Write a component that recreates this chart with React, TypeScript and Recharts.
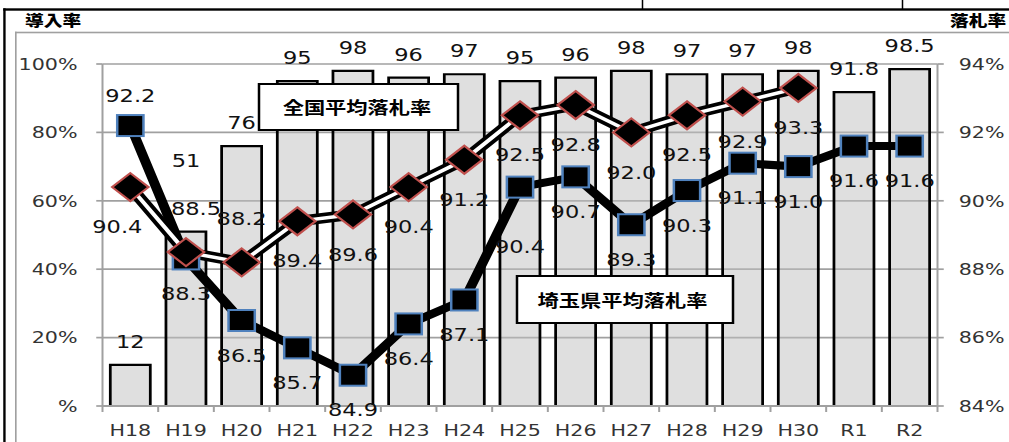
import React from 'react';
import { ComposedChart, Bar, Line, XAxis, YAxis, CartesianGrid, LabelList } from 'recharts';

const categories = ['H18', 'H19', 'H20', 'H21', 'H22', 'H23', 'H24', 'H25', 'H26', 'H27', 'H28', 'H29', 'H30', 'R1', 'R2'];
const adoptionRate = [12, 51, 76, 95, 98, 96, 97, 95, 96, 98, 97, 97, 98, 91.8, 98.5];
const nationalAvgRate: (number | null)[] = [90.4, 88.5, 88.2, 89.4, 89.6, 90.4, 91.2, 92.5, 92.8, 92.0, 92.5, 92.9, 93.3, null, null];
const saitamaAvgRate = [92.2, 88.3, 86.5, 85.7, 84.9, 86.4, 87.1, 90.4, 90.7, 89.3, 90.3, 91.1, 91.0, 91.6, 91.6];
const leftTicks = [0, 20, 40, 60, 80, 100];
const rightTicks = [84, 86, 88, 90, 92, 94];

const data = categories.map((cat, i) => ({
  cat,
  adoption: adoptionRate[i],
  national: nationalAvgRate[i],
  saitama: saitamaAvgRate[i],
}));

const SX = 1.25;
const W = 808;
const H = 442;
const PLOT_L = 82;
const PLOT_R = 750;
const PLOT_T = 64;
const PLOT_B = 406;
const BAND = (PLOT_R - PLOT_L) / categories.length;
const NUM_FONT = '"DejaVu Sans", Verdana, sans-serif';
const JP_FONT = '"Noto Sans CJK JP", "Noto Sans CJK SC", sans-serif';
const GRID = '#a0a0a0';
const X_TICK_SIZE = 6;
const X_TICK_MARGIN = 6;

const getXY = (p: any) => {
  const vb = p.viewBox || {};
  const x = typeof p.x === 'number' ? p.x : vb.x;
  const y = typeof p.y === 'number' ? p.y : vb.y;
  const w = typeof p.width === 'number' ? p.width : vb.width || 0;
  return { x, y, w };
};

const renderBarLabel = (p: any) => {
  const { x, y, w } = getXY(p);
  if (p.value == null || x == null || y == null) return null;
  const lift = p.index === 1 ? 71 : 23;
  return (
    <text key={`bl-${p.index}`} x={x + w / 2} y={y - lift} textAnchor="middle" dominantBaseline="central"
      fontFamily={NUM_FONT} fontSize={18} fill="#111">
      {String(p.value)}
    </text>
  );
};

const saitamaShift = (i: number) => (i === 0 ? [0, -30] : i === 7 ? [0, 60] : [0, 35]);
const nationalShift = (i: number) =>
  i === 0 ? [-10.4, 40] : i === 1 ? [8, -43] : i === 2 ? [0, -44] : [0, 40];

const makeLineLabel = (shift: (i: number) => number[]) => (p: any) => {
  const { x, y } = getXY(p);
  if (p.value == null || x == null || y == null || isNaN(y)) return null;
  const [dx, dy] = shift(p.index);
  return (
    <text key={`ll-${p.index}`} x={x + dx} y={y + dy} textAnchor="middle" dominantBaseline="central"
      fontFamily={NUM_FONT} fontSize={18} fill="#111">
      {Number(p.value).toFixed(1)}
    </text>
  );
};

const renderSquare = (p: any) => {
  const { cx, cy, index } = p;
  if (cx == null || cy == null || isNaN(cy)) return <g key={`sq-${index}`} />;
  return (
    <rect key={`sq-${index}`} x={cx - 10.5} y={cy - 10.5} width={21} height={21}
      fill="#000" stroke="#4f81bd" strokeWidth={2} />
  );
};

const renderDiamond = (p: any) => {
  const { cx, cy, index } = p;
  if (cx == null || cy == null || isNaN(cy)) return <g key={`dm-${index}`} />;
  const hw = 14.5;
  const hh = 14;
  return (
    <polygon key={`dm-${index}`}
      points={`${cx},${cy - hh} ${cx + hw},${cy} ${cx},${cy + hh} ${cx - hw},${cy}`}
      fill="#000" stroke="#c0504d" strokeWidth={2} />
  );
};

const XTick = (p: any) => {
  const { x, y, payload, index } = p;
  const axisY = y - X_TICK_SIZE - X_TICK_MARGIN;
  const left = x - BAND / 2;
  return (
    <g>
      <line x1={left} x2={left} y1={axisY} y2={axisY + 6} stroke={GRID} strokeWidth={1.6} />
      {index === categories.length - 1 && (
        <line x1={x + BAND / 2} x2={x + BAND / 2} y1={axisY} y2={axisY + 6} stroke={GRID} strokeWidth={1.6} />
      )}
      <text x={x} y={axisY + 24} textAnchor="middle" dominantBaseline="central"
        fontFamily={NUM_FONT} fontSize={16.5} fill="#333">
        {payload.value}
      </text>
    </g>
  );
};

const tickStyle = { fontSize: 16.5, fontFamily: NUM_FONT, fill: '#333' };

export default function App() {
  return (
    <div style={{ position: 'absolute', left: 0, top: 0, width: 1009, height: 442, overflow: 'hidden', background: '#fff' }}>
      <div style={{ position: 'relative', width: W, height: H, transform: `scale(${SX}, 1)`, transformOrigin: '0 0' }}>
        <ComposedChart width={W} height={H} data={data} barCategoryGap="14%"
          margin={{ top: PLOT_T, right: 0, bottom: 0, left: 0 }}>
          <CartesianGrid vertical={false} stroke={GRID} strokeWidth={1.7} />
          <XAxis dataKey="cat" interval={0} height={H - PLOT_B} tickSize={X_TICK_SIZE} tickMargin={X_TICK_MARGIN}
            tickLine={false} axisLine={{ stroke: GRID, strokeWidth: 2 }} tick={<XTick />} />
          <YAxis width={PLOT_L} domain={[0, 100]} ticks={leftTicks} interval={0} tickSize={5} tickMargin={15}
            tickFormatter={(v: number) => (v === 0 ? '%' : `${v}%`)} tick={tickStyle}
            axisLine={{ stroke: GRID, strokeWidth: 1.6 }} tickLine={{ stroke: GRID, strokeWidth: 1.7 }} />
          <YAxis yAxisId="right" orientation="right" width={W - PLOT_R} domain={[84, 94]} ticks={rightTicks}
            interval={0} tickSize={5} tickMargin={12} tickFormatter={(v: number) => `${v}%`} tick={tickStyle}
            axisLine={{ stroke: GRID, strokeWidth: 1.6 }} tickLine={{ stroke: GRID, strokeWidth: 1.7 }} />
          <Bar dataKey="adoption" fill="rgba(192,192,192,0.5)" stroke="#000" strokeWidth={2.2} isAnimationActive={false}>
            <LabelList dataKey="adoption" content={renderBarLabel} />
          </Bar>
          <Line yAxisId="right" dataKey="saitama" stroke="#000" strokeWidth={8} dot={renderSquare}
            activeDot={false} isAnimationActive={false}>
            <LabelList dataKey="saitama" content={makeLineLabel(saitamaShift)} />
          </Line>
          <Line yAxisId="right" dataKey="national" stroke="#000" strokeWidth={10.5} dot={false}
            activeDot={false} isAnimationActive={false} />
          <Line yAxisId="right" dataKey="national" stroke="#fff" strokeWidth={3.5} dot={renderDiamond}
            activeDot={false} isAnimationActive={false}>
            <LabelList dataKey="national" content={makeLineLabel(nationalShift)} />
          </Line>
        </ComposedChart>
        <svg width={W} height={H} style={{ position: 'absolute', left: 0, top: 0, pointerEvents: 'none' }}>
          <rect x={12} y={31.7} width={W} height={1.6} fill={GRID} />
          <rect x={12} y={31.7} width={1.3} height={H} fill={GRID} />
          <rect x={2.6} y={8.3} width={W} height={2.4} fill="#000" />
          <rect x={2.6} y={8.3} width={1.9} height={H} fill="#000" />
          <rect x={513.4} y={0} width={1.2} height={9} fill="#000" />
          <rect x={721.4} y={0} width={1.2} height={9} fill="#000" />
          <text x={20} y={19} dominantBaseline="central" fontFamily={JP_FONT} fontWeight={900} fontSize={15} fill="#000">導入率</text>
          <text x={805} y={19} textAnchor="end" dominantBaseline="central" fontFamily={JP_FONT} fontWeight={900} fontSize={15} fill="#000">落札率</text>
          <rect x={207.2} y={84} width={159.2} height={46} fill="#fff" stroke="#000" strokeWidth={2} />
          <text x={285.6} y={107} textAnchor="middle" dominantBaseline="central" fontFamily={JP_FONT} fontWeight={700} fontSize={17} fill="#000">全国平均落札率</text>
          <rect x={413.6} y={276} width={172.8} height={47} fill="#fff" stroke="#000" strokeWidth={2} />
          <text x={498} y={300} textAnchor="middle" dominantBaseline="central" fontFamily={JP_FONT} fontWeight={700} fontSize={17} fill="#000">埼玉県平均落札率</text>
        </svg>
      </div>
    </div>
  );
}
